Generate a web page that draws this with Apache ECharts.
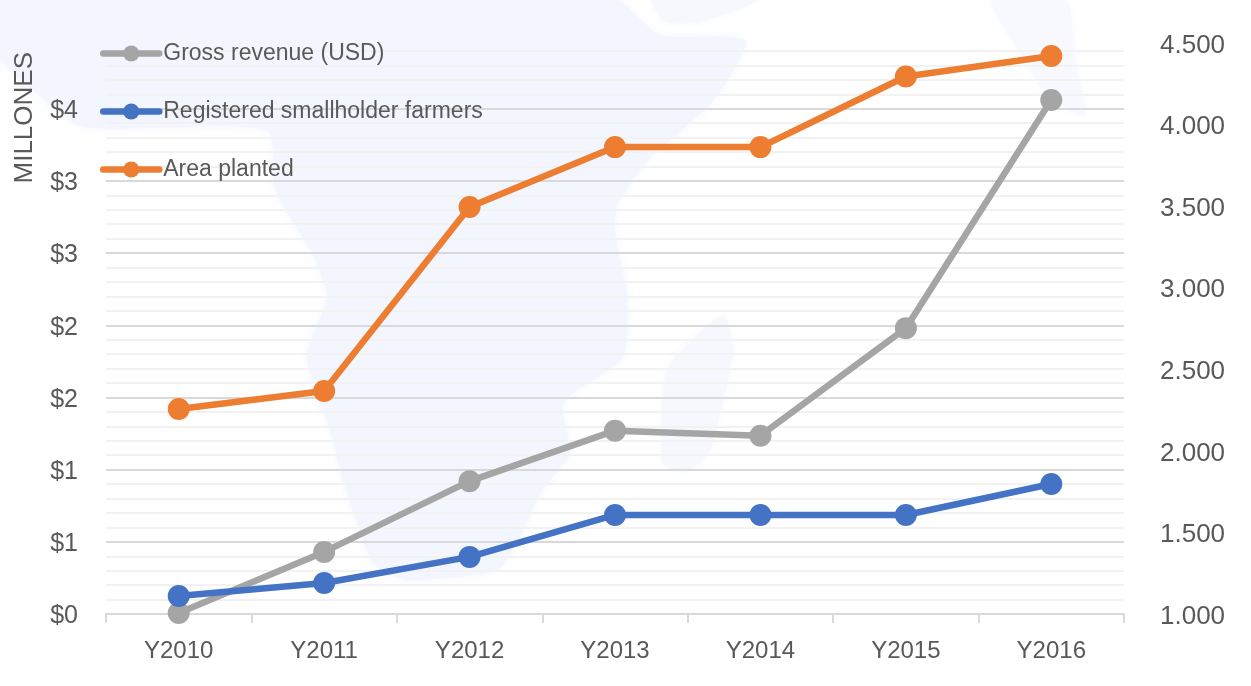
<!DOCTYPE html>
<html>
<head>
<meta charset="utf-8">
<style>html,body{margin:0;padding:0;background:#fff}#main{width:1251px;height:686px}</style>
<script src="https://cdn.jsdelivr.net/npm/echarts@6/dist/echarts.min.js"></script>
</head>
<body>
<div id="main"></div>
<script>
var categories = ['Y2010', 'Y2011', 'Y2012', 'Y2013', 'Y2014', 'Y2015', 'Y2016'];
var grossRevenue = [0.007, 0.43, 0.92, 1.27, 1.235, 1.98, 3.56];
var farmers = [1110, 1190, 1350, 1607, 1607, 1607, 1797];
var areaPlanted = [2257, 2367, 3495, 3862, 3862, 4295, 4420];
var leftTicks = [0, 0.5, 1, 1.5, 2, 2.5, 3, 3.5];
var rightTicks = [1000, 1500, 2000, 2500, 3000, 3500, 4000, 4500];

var myChart = echarts.init(document.getElementById('main'));
var textColor = '#595959';
var fontName = 'Liberation Sans';

function lineSeries(name, color, values, axis) {
    return {
        name: name,
        type: 'line',
        yAxisIndex: axis,
        data: values,
        symbol: 'circle',
        symbolSize: 22,
        z: 5,
        lineStyle: { color: color, width: 6.5, cap: 'round' },
        itemStyle: { color: color }
    };
}

function mapShape(points, tint) {
    return {
        type: 'polygon', silent: true, z: -10,
        shape: { smooth: 0.2, points: points },
        style: { fill: tint, shadowBlur: 10, shadowColor: tint }
    };
}

var option = {
    backgroundColor: '#fff',
    animation: false,
    textStyle: { fontFamily: fontName, color: textColor },
    // faint map of Africa behind the plot
    graphic: [
        mapShape([[0, 0], [615, 0], [660, 35], [745, 40], [714, 100], [648, 160], [618, 203], [615, 231], [627, 297], [623, 357], [563, 403], [570, 453], [540, 493], [520, 537], [497, 570], [407, 580], [373, 563], [343, 480], [333, 440], [307, 357], [327, 297], [313, 255], [275, 189], [267, 130], [83, 127], [33, 90], [0, 57]], '#f3f6fe'),
        mapShape([[652, 0], [758, 0], [700, 22], [665, 22]], '#f6f8fe'),
        mapShape([[663, 465], [667, 370], [723, 315], [733, 350], [710, 450], [690, 470]], '#f6f8fe'),
        mapShape([[992, 0], [1066, 0], [1075, 60], [1085, 115], [1050, 100], [1025, 60]], '#f7f9fe'),
        {
            type: 'text', left: 12, top: 52, rotation: Math.PI / 2, silent: true,
            style: { text: 'MILLONES', fill: textColor, font: '26px "Liberation Sans"' }
        }
    ],
    legend: {
        orient: 'vertical',
        left: 100,
        top: 42,
        itemWidth: 56,
        itemHeight: 20,
        itemGap: 35,
        padding: 0,
        lineStyle: { width: 6.5, cap: 'round' },
        textStyle: { fontSize: 23, color: textColor, padding: [0, 0, 0, -1], fontFamily: fontName },
        data: ['Gross revenue (USD)', 'Registered smallholder farmers', 'Area planted']
    },
    grid: { left: 106, right: 127, top: 36.5, bottom: 72 },
    xAxis: {
        type: 'category',
        data: categories,
        boundaryGap: true,
        axisLine: { lineStyle: { color: '#d9d9d9', width: 2 } },
        axisTick: { show: true, length: 9, lineStyle: { color: '#d9d9d9', width: 2 } },
        axisLabel: { fontSize: 24, color: textColor, margin: 25 }
    },
    yAxis: [
        {
            type: 'value',
            min: 0,
            max: 4,
            interval: 0.5,
            axisLine: { show: false },
            axisTick: { show: false },
            axisLabel: {
                color: textColor,
                margin: 28,
                customValues: leftTicks,
                rich: { t: { fontSize: 25, color: textColor, padding: [5, 0, 0, 0] } },
                formatter: function (v) { return '{t|$' + Math.round(v) + '}'; }
            },
            splitLine: { show: true, showMaxLine: false, lineStyle: { color: '#d9d9d9', width: 2 } },
            minorTick: { show: false, splitNumber: 5 },
            minorSplitLine: { show: true, lineStyle: { color: '#f2f2f2', width: 2 } }
        },
        {
            type: 'value',
            min: 1000,
            max: 4540,
            interval: 500,
            position: 'right',
            axisLine: { show: false },
            axisTick: { show: false },
            splitLine: { show: false },
            axisLabel: {
                color: textColor,
                margin: 36,
                customValues: rightTicks,
                rich: { t: { fontSize: 26, color: textColor, padding: [5, 0, 0, 0] } },
                formatter: function (v) { return '{t|' + String(v).replace(/(\d)(\d{3})$/, '$1.$2') + '}'; }
            }
        }
    ],
    series: [
        lineSeries('Gross revenue (USD)', '#a5a5a5', grossRevenue, 0),
        lineSeries('Registered smallholder farmers', '#4472c4', farmers, 1),
        lineSeries('Area planted', '#ed7d31', areaPlanted, 1)
    ]
};

myChart.setOption(option);
</script>
</body>
</html>
